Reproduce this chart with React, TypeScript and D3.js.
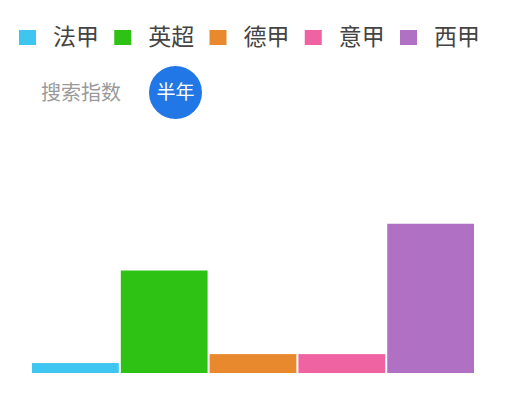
import React from "react";
import * as d3 from "d3";

const leagues = ["法甲", "英超", "德甲", "意甲", "西甲"];
const searchIndex = [10, 103, 19, 19, 150];
const colors = ["#3ec6f1", "#2dc214", "#e8892e", "#f063a2", "#b070c4"];
const yTicks = [0, 200];

const width = 513;
const height = 411;
const margin = { top: 174, right: 39, bottom: 38, left: 32 };
const font = "'Noto Sans CJK SC', 'Noto Sans', sans-serif";

export default function App() {
  const x = d3
    .scaleBand<string>()
    .domain(leagues)
    .range([margin.left, width - margin.right])
    .paddingInner(0.023);

  const y = d3
    .scaleLinear()
    .domain([yTicks[0], yTicks[yTicks.length - 1]])
    .range([height - margin.bottom, margin.top]);

  // legend items spaced evenly across the top
  const legendX = d3.scalePoint<string>().domain(leagues).range([19, 400]);

  return (
    <div style={{ position: "fixed", left: 0, top: 0 }}>
      <svg width={width} height={height} style={{ display: "block", background: "#fff" }}>
        {leagues.map((name, i) => (
          <g key={name} transform={`translate(${legendX(name)},0)`}>
            <rect x={0} y={30} width={17} height={15} fill={colors[i]} />
            <text x={34} y={45} fontSize={23} fill="#444" fontFamily={font}>
              {name}
            </text>
          </g>
        ))}

        <text x={41} y={100} fontSize={20} fill="#9a9a9a" fontFamily={font}>
          搜索指数
        </text>
        <circle cx={175.5} cy={92.5} r={26.5} fill="#2277e6" />
        <text
          x={175.5}
          y={99}
          fontSize={19}
          fill="#fff"
          textAnchor="middle"
          fontFamily={font}
        >
          半年
        </text>

        {leagues.map((name, i) => (
          <rect
            key={name}
            x={x(name)!}
            y={y(searchIndex[i])}
            width={x.bandwidth()}
            height={y(0) - y(searchIndex[i])}
            fill={colors[i]}
          />
        ))}
      </svg>
    </div>
  );
}
